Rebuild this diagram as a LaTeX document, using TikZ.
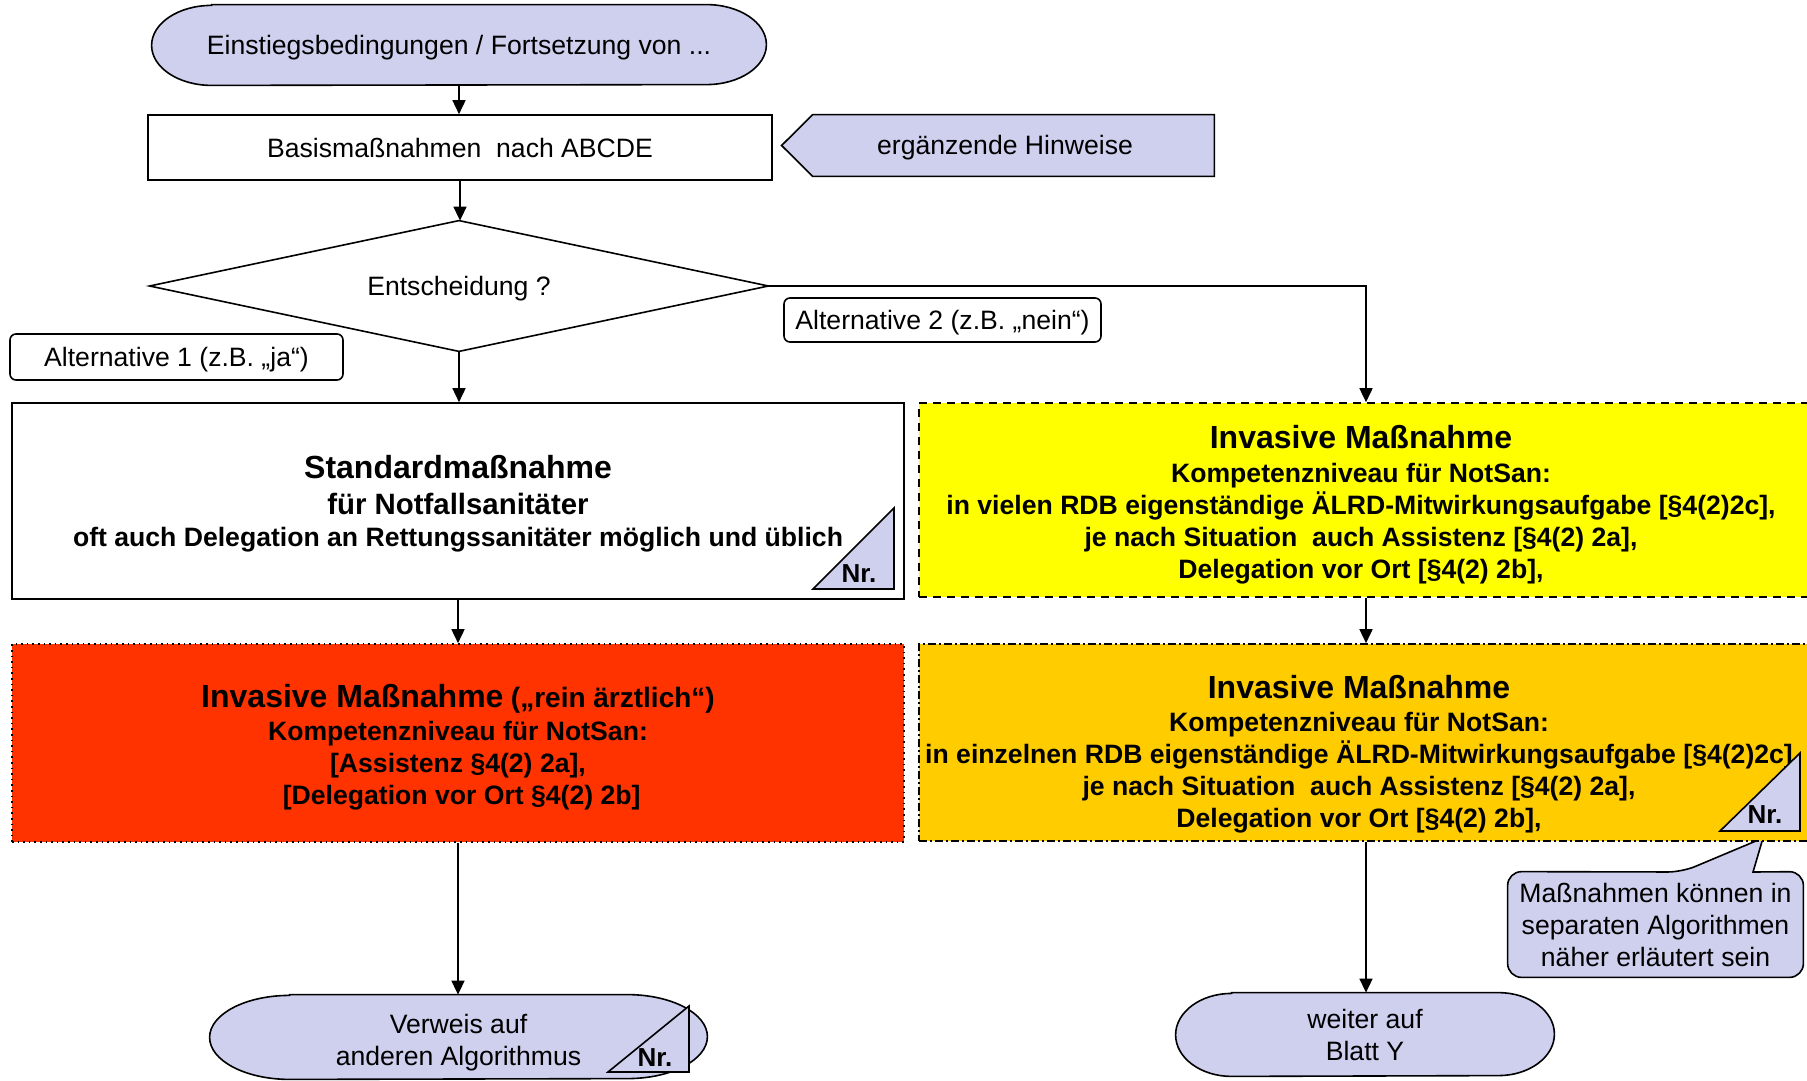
\documentclass[tikz,border=0pt]{standalone}
\usepackage{fontspec}
\setmainfont{Liberation Sans}
\usetikzlibrary{arrows.meta,calc}

\definecolor{lavender}{RGB}{206,208,238}
\definecolor{boxyellow}{RGB}{255,255,0}
\definecolor{boxorange}{RGB}{255,204,0}
\definecolor{boxred}{RGB}{255,51,0}

\pgfdeclarelayer{bg}
\pgfsetlayers{bg,main}

% capsule outline around a node: #1 node, #2 horizontal end radius (units), #3 vertical end radius (pt)
\newcommand\capsule[3]{%
  \path[capsuleshape] ($(#1.north west)+(#2,0)$) -- ($(#1.north east)+(-#2,0)$)
    arc[start angle=90,end angle=-90,x radius=#2*0.5pt,y radius=#3]
    -- ($(#1.south west)+(#2,0)$)
    arc[start angle=270,end angle=90,x radius=#2*0.5pt,y radius=#3] -- cycle;}

\newcommand\bigtitle{\fontsize{16}{18}\selectfont}
\newcommand\midtitle{\fontsize{14.7}{17}\selectfont}

\tikzset{
  arr/.style={line width=0.8pt,-{Triangle[length=7pt,width=6.5pt]}},
  capsuleshape/.style={fill=lavender,draw=black,line width=0.8pt},
  txt/.style={font=\fontsize{13.3}{16}\selectfont,align=center,inner sep=0pt},
  btxt/.style={font=\bfseries\fontsize{13.3}{16}\selectfont,align=center,inner sep=0pt},
  nrtxt/.style={font=\bfseries\fontsize{13}{15}\selectfont,inner sep=0pt},
  frame/.style={inner sep=0pt,line width=0.8pt},
  labelbox/.style={draw,fill=white,rounded corners=3pt,line width=0.8pt,
    font=\fontsize{13.3}{16}\selectfont,inner sep=0pt,text height=11.5pt,text depth=2pt},
  nrtri/.style={fill=lavender,draw=black,line width=0.8pt,line join=miter},
}

\begin{document}
\begin{tikzpicture}[x=0.5pt,y=-0.5pt]
\useasboundingbox (0,0) rectangle (1807,1080);
\clip (0,0) rectangle (1807,1080);

% ---- start terminal, basic measures, hint ----
\node[txt,minimum width=307pt,minimum height=40pt] (start) at (459,45) {};
\node[txt] (starttxt) at (459,48) {Einstiegsbedingungen / Fortsetzung von ...};
\node[frame,draw,fill=white,txt,minimum width=312pt,minimum height=32.5pt] (basis) at (460,147.5)
  {Basismaßnahmen\ \ nach ABCDE};
\node[txt,minimum width=209pt,minimum height=30.5pt] (hint) at (1005,145.5) {};
\node[txt] (hinttxt) at (1005,148) {ergänzende Hinweise};

% ---- decision ----
\node[txt,minimum width=309pt,minimum height=65pt] (dec) at (459,286) {};
\node[txt] (dectxt) at (459,289) {Entscheidung ?};
\node[labelbox,minimum width=166.5pt,minimum height=23pt] (alt1) at (176.5,357)
  {Alternative 1 (z.B. „ja“)};
\node[labelbox,minimum width=158.5pt,minimum height=22pt] (alt2) at (942.5,320)
  {Alternative 2 (z.B. „nein“)};

% ---- measure boxes ----
\node[frame,draw,fill=white,minimum width=446pt,minimum height=98pt] (std) at (458,501) {};
\node[frame,draw,dotted,fill=boxred,minimum width=446pt,minimum height=99pt] (red) at (458,743) {};
\node[frame,draw,dash pattern=on 4pt off 3pt,fill=boxyellow,minimum width=447pt,minimum height=97pt] (yel) at (1366,500) {};
\node[frame,draw,dash pattern=on 4pt off 1.5pt on 1pt off 1.5pt,fill=boxorange,minimum width=447pt,minimum height=98.5pt] (ora) at (1366,742.5) {};

\node[btxt] (stdtxt) at (458,504)
  {{\bigtitle Standardmaßnahme}\\[1.8pt]
   {\midtitle für Notfallsanitäter}\\[0pt]
   oft auch Delegation an Rettungssanitäter möglich und üblich};
\node[btxt] (redtxt) at (458,747.5)
  {{\bigtitle Invasive Maßnahme} {\fontsize{14}{16}\selectfont(„rein ärztlich“)}\\[0.3pt]
   Kompetenzniveau für NotSan:\\
   {[}Assistenz §4(2) 2a],\\
   \ {[}Delegation vor Ort §4(2) 2b]};
\node[btxt] (yeltxt) at (1361,504.8)
  {{\bigtitle Invasive Maßnahme}\\[1.2pt]
   Kompetenzniveau für NotSan:\\
   in vielen RDB eigenständige ÄLRD-Mitwirkungsaufgabe [§4(2)2c],\\
   je nach Situation\ \ auch Assistenz [§4(2) 2a],\\
   Delegation vor Ort [§4(2) 2b],};
\node[btxt] (oratxt) at (1359,754)
  {{\bigtitle Invasive Maßnahme}\\[0.6pt]
   Kompetenzniveau für NotSan:\\
   in einzelnen RDB eigenständige ÄLRD-Mitwirkungsaufgabe [§4(2)2c]\\
   je nach Situation\ \ auch Assistenz [§4(2) 2a],\\
   Delegation vor Ort [§4(2) 2b],};

% ---- end terminals and note ----
\node[txt,minimum width=248.5pt,minimum height=42pt] (verweis) at (458.5,1037) {};
\node[txt] (verweistxt) at (458.5,1042.5) {Verweis auf\\anderen Algorithmus};
\node[txt,minimum width=189pt,minimum height=41.5pt] (weiter) at (1365,1034.5) {weiter auf\\Blatt Y};
\node[txt,minimum width=147.5pt,minimum height=52.5pt] (note) at (1655.5,924.5)
  {Maßnahmen können in\\separaten Algorithmen\\näher erläutert sein};

% ---- shapes behind the texts ----
\begin{pgfonlayer}{bg}
  \capsule{start}{60}{20pt}
  \capsule{verweis}{80}{21pt}
  \capsule{weiter}{56}{20.75pt}
  \path[fill=lavender,draw=black,line width=0.8pt]
    ($(hint.west)+(-14,0)$) -- ($(hint.north west)+(17,0)$) -- (hint.north east)
    -- (hint.south east) -- ($(hint.south west)+(17,0)$) -- cycle;
  \path[draw=black,line width=0.8pt]
    (dec.north) -- (dec.east) -- (dec.south) -- (dec.west) -- cycle;
  \path[fill=lavender,draw=black,line width=0.8pt]
    (1763,838) -- (1753,872) [rounded corners=7pt] -- (note.north east) -- (note.south east)
    -- (note.south west) -- (note.north west) -- (1682,872) [sharp corners] -- cycle;
\end{pgfonlayer}

% ---- number markers ----
\path[nrtri] (813,589) -- (894,589) -- (894,508) -- cycle;
\node[nrtxt] (nrstd) at (859,574) {Nr.};
\path[nrtri] (1720,831) -- (1800,831) -- (1800,753) -- cycle;
\node[nrtxt] (nrora) at (1765,815) {Nr.};
\path[nrtri] (608,1072) -- (689,1072) -- (689,1006) -- cycle;
\node[nrtxt] (nrverweis) at (655,1058) {Nr.};

% ---- connectors ----
\draw[arr] (start.south) -- (start.south |- basis.north);
\draw[arr] (basis.south) -- (basis.south |- dec.north);
\draw[arr] (dec.south) -- (dec.south |- std.north);
\draw[arr] (dec.east) -| (yel.north);
\draw[arr] (std.south) -- (std.south |- red.north);
\draw[arr] (yel.south) -- (yel.south |- ora.north);
\draw[arr] (red.south) -- (red.south |- verweis.north);
\draw[arr] (ora.south) -- (ora.south |- weiter.north);
\end{tikzpicture}
\end{document}
